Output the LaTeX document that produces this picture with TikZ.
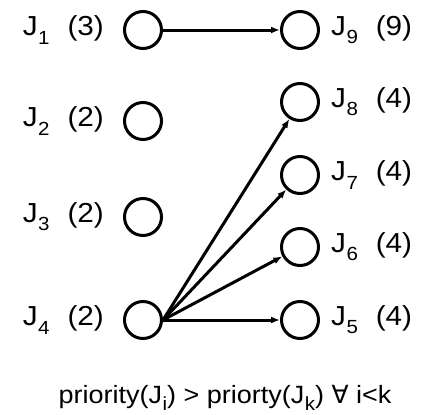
\documentclass[tikz,border=0pt]{standalone}
\usepackage{fontspec}
\setmainfont{Liberation Sans}[FakeStretch=1.08]
\newfontfamily\symfont{DejaVu Sans}
\usepackage{tikz}
\usetikzlibrary{arrows.meta, positioning}

\newcommand\jsub[1]{\kern0.5pt\raisebox{-0.3em}{\fontsize{19}{20}\selectfont #1}}
\newcommand\joblabel[2]{J\jsub{#1}\hspace{0.65em}(#2)}

\begin{document}
\begin{tikzpicture}[x=1pt, y=-1pt,
    job/.style={draw, circle, line width=3pt, minimum size=37pt, inner sep=0pt},
    lbl/.style={inner sep=0pt, font=\fontsize{27.5}{30}\selectfont},
    arr/.style={-{Latex[length=9pt, width=7pt]}, line width=3pt},
  ]
    \useasboundingbox (0,0) rectangle (421,415);

    % === Left column (higher priority) ===
    \node[job] (j1) at (143, 30) {};
    \node[job] (j2) at (143, 121) {};
    \node[job] (j3) at (143, 217) {};
    \node[job] (j4) at (143, 320) {};

    % === Right column (lower priority) ===
    \node[job] (j9) at (300, 30) {};
    \node[job] (j8) at (300, 102) {};
    \node[job] (j7) at (300, 175) {};
    \node[job] (j6) at (300, 247) {};
    \node[job] (j5) at (300, 320) {};

    % Labels
    \node[lbl, left=19pt of j1] {\joblabel{1}{3}};
    \node[lbl, left=19pt of j2] {\joblabel{2}{2}};
    \node[lbl, left=19pt of j3] {\joblabel{3}{2}};
    \node[lbl, left=19pt of j4] {\joblabel{4}{2}};
    \node[lbl, right=11pt of j9] {\joblabel{9}{9}};
    \node[lbl, right=11pt of j8] {\joblabel{8}{4}};
    \node[lbl, right=11pt of j7] {\joblabel{7}{4}};
    \node[lbl, right=11pt of j6] {\joblabel{6}{4}};
    \node[lbl, right=11pt of j5] {\joblabel{5}{4}};

    % === Arrows ===
    \draw[arr] (j1.east) -- (j9.west);
    \draw[arr] (j4.east) -- (j8);
    \draw[arr] (j4.east) -- (j7);
    \draw[arr] (j4.east) -- (j6);
    \draw[arr] (j4.east) -- (j5.west);

    % Caption
    \node[lbl, font=\fontsize{25}{30}\selectfont] (cap) at (225, 398)
      {priority(J\jsub{i}) > priorty(J\jsub{k}) {\symfont ∀} i<k};
  \end{tikzpicture}
\end{document}
